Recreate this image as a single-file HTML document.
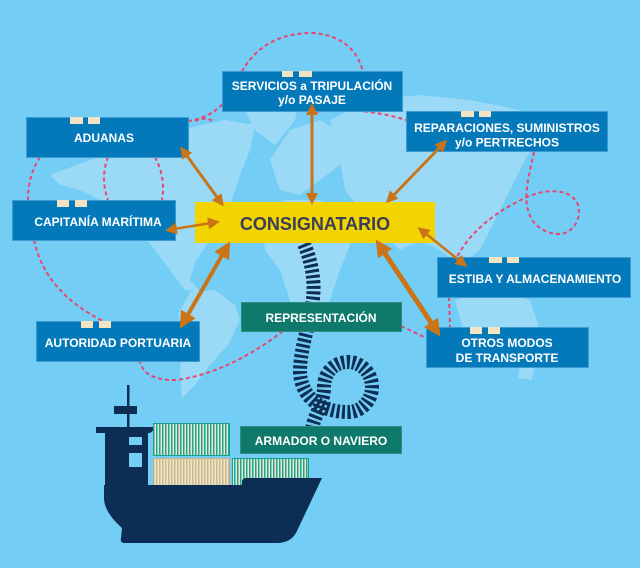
<!DOCTYPE html>
<html><head><meta charset="utf-8"><style>
html,body{margin:0;padding:0;background:#74cdf5;}
svg{display:block;}
text{font-family:"Liberation Sans",sans-serif;font-weight:bold;}
</style></head><body>
<svg width="640" height="568" viewBox="0 0 640 568" xmlns="http://www.w3.org/2000/svg">
<defs>
<marker id="ah" viewBox="0 0 12 12" refX="9" refY="6" markerWidth="12" markerHeight="12" markerUnits="userSpaceOnUse" orient="auto-start-reverse"><path d="M0,0 L12,6 L0,12 z" fill="#c97517"/></marker>
<marker id="ahb" viewBox="0 0 16 16" refX="12" refY="8" markerWidth="17" markerHeight="17" markerUnits="userSpaceOnUse" orient="auto-start-reverse"><path d="M0,0 L16,8 L0,16 z" fill="#c97517"/></marker>
<pattern id="gs" width="3" height="10" patternUnits="userSpaceOnUse"><rect width="3" height="10" fill="#1ea693"/><rect x="1.5" width="1.5" height="10" fill="#eee7cf"/></pattern>
<pattern id="cs" width="3" height="10" patternUnits="userSpaceOnUse"><rect width="3" height="10" fill="#cdb98e"/><rect x="1.5" width="1.5" height="10" fill="#efe5c8"/></pattern>
</defs>
<rect width="640" height="568" fill="#74cdf5"/>
<!-- map -->
<g fill="#9bdaf7">
<polygon points="50,175 90,160 140,150 180,130 225,120 255,125 250,150 240,175 232,200 222,215 210,240 195,262 190,280 200,292 185,290 170,270 155,250 140,230 120,215 100,200 80,190 60,185"/>
<polygon points="240,100 270,92 300,97 295,120 275,145 255,130"/>
<polygon points="190,292 215,290 235,305 240,320 228,345 210,365 195,385 182,398 180,370 183,340 178,315"/>
<polygon points="270,160 290,130 320,120 345,135 340,165 320,180 300,195 280,190"/>
<polygon points="262,215 285,200 320,200 345,215 350,245 340,270 330,300 318,325 300,330 290,300 280,270 265,250"/>
<polygon points="330,120 370,100 420,95 470,100 520,110 540,135 525,160 510,190 495,220 480,250 460,265 440,250 420,240 400,250 385,235 360,210 345,190 340,160"/>
<polygon points="455,300 490,290 530,300 540,330 520,345 490,345 465,335"/>
<polygon points="520,365 535,362 532,380 518,378"/>
</g>
<!-- dashed routes -->
<g fill="none" stroke="#e8466f" stroke-width="2" stroke-dasharray="4 3">
<path d="M188 121 Q 225 116 240 75 Q 262 32 315 33 Q 355 38 363 72"/>
<path d="M195 121 Q 205 116 215 122"/>
<path d="M315 112 Q 360 106 406 120"/>
<path d="M534 152 C 528 180, 518 212, 540 228 C 565 244, 583 225, 578 205 C 572 188, 545 188, 525 198 C 495 212, 470 232, 457 257"/>
<path d="M449 297 L 450 327"/>
<path d="M401 326 L 426 338"/>
<path d="M283 331 Q 230 372 177 380 Q 145 381 140 362"/>
<path d="M34 240 Q 45 292 103 321"/>
<path d="M40 157 Q 28 175 28 200"/>
<path d="M108 157 Q 100 178 108 200"/>
<path d="M155 157 Q 166 178 162 200"/>
</g>
<!-- rope -->
<path d="M304 244 C 312 262, 316 285, 312 305 C 308 330, 300 350, 300 372 C 301 395, 318 412, 348 412 C 362 412, 372 400, 372 387 C 372 373, 361 362, 348 362 C 334 362, 324 373, 324 387 C 324 405, 312 418, 312 432" fill="none" stroke="#0d2f55" stroke-width="14" stroke-dasharray="3 2.4"/>
<!-- ship -->
<g fill="#0c2d54">
<rect x="127" y="385" width="2.5" height="44"/>
<rect x="114" y="406" width="23" height="8"/>
<polygon points="96,427 158,427 150,433 96,433"/>
<rect x="105" y="433" width="43" height="54"/>
</g>
<rect x="129" y="437" width="13" height="8" fill="#74cdf5"/>
<rect x="129" y="453" width="13" height="14" fill="#74cdf5"/>
<rect x="153.5" y="423.5" width="76" height="32" fill="url(#gs)" stroke="#16a08d"/>
<rect x="153.5" y="458.5" width="76" height="28" fill="url(#cs)" stroke="#c6b184"/>
<rect x="232.5" y="458.5" width="76" height="28" fill="url(#gs)" stroke="#16a08d"/>
<path d="M104 485 L 242 485 L 242 482 Q 242 478 247 478 L 322 478 L 296 533 Q 290 543 277 543 L 124 543 Q 120 543 121 538 L 122 528 Q 104 512 104 498 Z" fill="#0c2d54"/>
<!-- boxes -->
<g fill="#0479ba" stroke="#3d9bd2" stroke-width="1">
<rect x="222.5" y="71.5" width="180" height="40"/>
<rect x="26.5" y="117.5" width="162" height="40"/>
<rect x="12.5" y="200.5" width="163" height="40"/>
<rect x="406.5" y="111.5" width="201" height="40"/>
<rect x="437.5" y="257.5" width="193" height="40"/>
<rect x="426.5" y="327.5" width="162" height="40"/>
<rect x="36.5" y="321.5" width="163" height="40"/>
</g>
<g fill="#0f7a6c" stroke="#2c8f80" stroke-width="1">
<rect x="241.5" y="302.5" width="160" height="29"/>
<rect x="240.5" y="426.5" width="161" height="27"/>
</g>
<rect x="195" y="202" width="240" height="41" fill="#f2d400"/>
<!-- tabs -->
<g fill="#f3e3c3">
<rect x="282" y="71" width="11" height="6"/><rect x="299" y="71" width="13" height="6"/>
<rect x="70" y="117" width="13" height="7"/><rect x="88" y="117" width="12" height="7"/>
<rect x="57" y="200" width="12" height="7"/><rect x="75" y="200" width="12" height="7"/>
<rect x="461" y="111" width="13" height="6"/><rect x="479" y="111" width="12" height="6"/>
<rect x="489" y="257" width="13" height="6"/><rect x="507" y="257" width="12" height="6"/>
<rect x="470" y="327" width="12" height="7"/><rect x="488" y="327" width="12" height="7"/>
<rect x="81" y="321" width="12" height="7"/><rect x="99" y="321" width="12" height="7"/>
</g>
<!-- labels -->
<g fill="#ffffff" font-size="12" text-anchor="middle">
<text x="312" y="90">SERVICIOS a TRIPULACIÓN</text>
<text x="312" y="104">y/o PASAJE</text>
<text x="104" y="142">ADUANAS</text>
<text x="98" y="226">CAPITANÍA MARÍTIMA</text>
<text x="507" y="132">REPARACIONES, SUMINISTROS</text>
<text x="507" y="146.5">y/o PERTRECHOS</text>
<text x="535" y="283">ESTIBA Y ALMACENAMIENTO</text>
<text x="507" y="347">OTROS MODOS</text>
<text x="507" y="362">DE TRANSPORTE</text>
<text x="118" y="347">AUTORIDAD PORTUARIA</text>
<text x="321" y="322">REPRESENTACIÓN</text>
<text x="321" y="445">ARMADOR O NAVIERO</text>
</g>
<text x="315" y="230" font-size="18" fill="#3b3e57" text-anchor="middle">CONSIGNATARIO</text>
<!-- arrows -->
<g stroke="#c97517" fill="none">
<line x1="182" y1="149" x2="222" y2="204" stroke-width="3" marker-start="url(#ah)" marker-end="url(#ah)"/>
<line x1="168" y1="230" x2="217" y2="222" stroke-width="2.5" marker-start="url(#ah)" marker-end="url(#ah)"/>
<line x1="312" y1="106" x2="312" y2="202" stroke-width="3" marker-start="url(#ah)" marker-end="url(#ah)"/>
<line x1="445" y1="142" x2="388" y2="201" stroke-width="3" marker-start="url(#ah)" marker-end="url(#ah)"/>
<line x1="420" y1="229" x2="465" y2="265" stroke-width="2.5" marker-start="url(#ah)" marker-end="url(#ah)"/>
<line x1="378" y1="243" x2="438" y2="333" stroke-width="5" marker-start="url(#ahb)" marker-end="url(#ahb)"/>
<line x1="228" y1="245" x2="182" y2="325" stroke-width="4" marker-start="url(#ahb)" marker-end="url(#ahb)"/>
</g>
</svg>
</body></html>
